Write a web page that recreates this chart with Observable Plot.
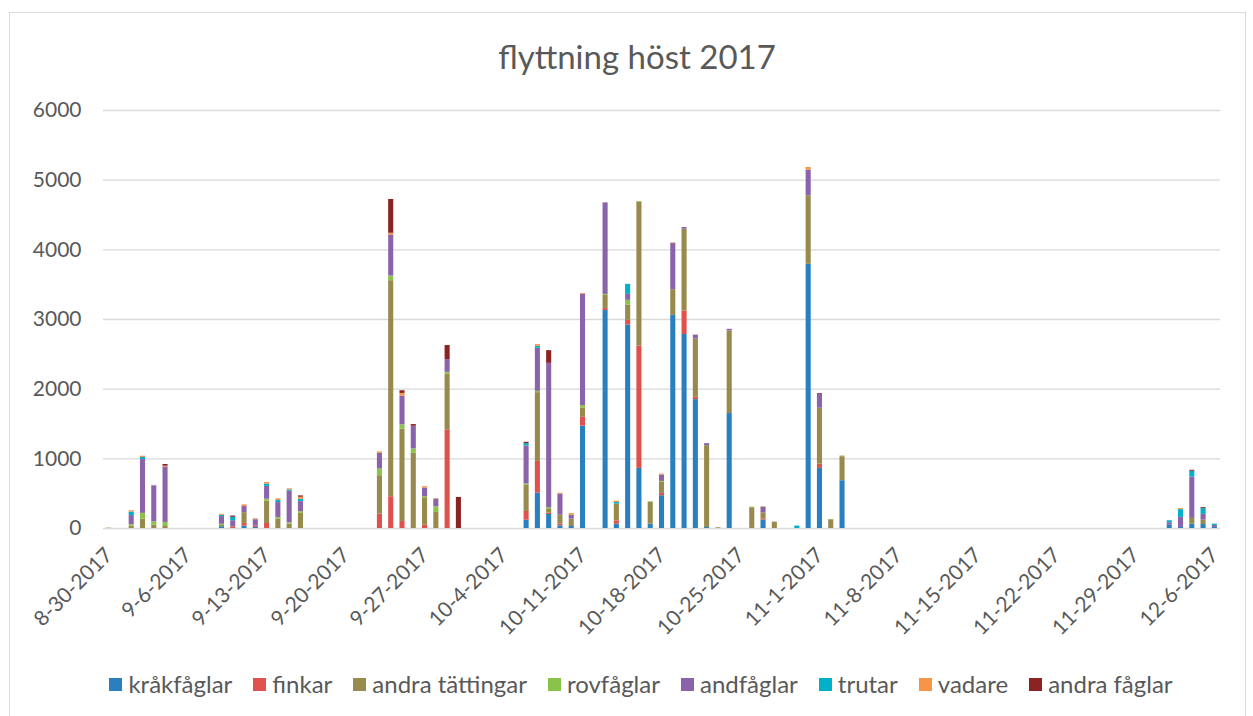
<!DOCTYPE html>
<html>
<head>
<meta charset="utf-8">
<script src="https://cdn.jsdelivr.net/npm/d3@7"></script>
<script src="https://cdn.jsdelivr.net/npm/@observablehq/plot@0.6"></script>
<style>
  html, body { margin: 0; padding: 0; background: #fff; }
  #wrap { position: relative; width: 1253px; height: 716px; overflow: hidden; font-family: Lato, "Open Sans", sans-serif; }
  #frame { position: absolute; left: 9px; top: 12px; width: 1237px; height: 720px; border: 1px solid #d9d9d9; box-sizing: border-box; }
  #title { position: absolute; left: 0; top: 35px; width: 1274px; text-align: center; font-size: 33px; color: #595959; line-height: 42px; }
  #chart { position: absolute; left: 0; top: 0; }
  #legend { position: absolute; left: 0; top: 669px; width: 1282px; display: flex; justify-content: center; gap: 21px; font-size: 24px; color: #595959; line-height: 30px; }
  .item { display: flex; align-items: center; }
  .sw { width: 13px; height: 13px; margin-right: 6px; }
</style>
</head>
<body>
<div id="wrap">
  <div id="frame"></div>
  <div id="title">flyttning höst 2017</div>
  <div id="chart"></div>
  <div id="legend"></div>
</div>
<script>
const seriesNames = ["kråkfåglar", "finkar", "andra tättingar", "rovfåglar", "andfåglar", "trutar", "vadare", "andra fåglar"];
const seriesColors = ["#2a80bf", "#e0504c", "#978a4c", "#8bc34a", "#8a63aa", "#00afc8", "#f79446", "#8c2323"];

const days = ["8-30","9-1","9-2","9-3","9-4","9-9","9-10","9-11","9-12","9-13","9-14","9-15","9-16",
  "9-23","9-24","9-25","9-26","9-27","9-28","9-29","9-30",
  "10-6","10-7","10-8","10-9","10-10","10-11","10-13","10-14","10-15","10-16","10-17","10-18","10-19","10-20","10-21","10-22","10-23","10-24","10-26","10-27","10-28","10-30","10-31",
  "11-1","11-2","11-3","12-2","12-3","12-4","12-5","12-6"];

const krakfaglar = [0,0,0,0,0,25,0,34,15,0,0,0,0,
  0,0,0,0,0,0,0,0,
  120,508,201,38,29,1471,3130,62,2920,863,62,470,3059,2785,1850,14,0,1650,0,120,0,0,3792,
  863,0,686,53,15,63,58,15];
const finkar = [0,0,0,0,0,0,15,39,19,72,0,0,0,
  206,456,101,0,48,0,1416,0,
  125,455,19,24,0,125,29,48,67,1755,0,34,0,336,34,0,0,0,0,19,0,0,0,
  62,0,0,0,0,0,0,0];
const andraTattingar = [5,35,135,48,29,20,10,155,0,319,135,63,217,
  552,3101,1325,1080,394,230,797,0,
  374,987,53,129,105,134,187,240,221,2066,312,158,369,1175,839,1175,10,1185,297,86,91,0,983,
  801,125,345,0,0,82,63,0];
const rovfaglar = [0,20,82,48,58,15,0,0,0,29,24,19,24,
  96,67,62,62,14,82,29,0,
  19,19,24,0,0,34,14,0,67,10,10,14,0,0,0,0,0,0,10,0,0,0,0,
  0,5,10,0,0,0,0,0];
const andfaglar = [0,130,773,517,797,111,87,87,92,184,213,454,145,
  226,590,413,326,125,96,182,0,
  546,618,2074,302,57,1600,1314,0,86,0,0,91,657,24,53,29,0,24,0,67,0,0,369,
  201,0,0,29,145,594,82,29];
const trutar = [0,50,29,0,0,19,48,0,0,34,29,19,34,
  0,0,0,0,0,0,0,0,
  34,29,0,0,0,0,0,24,144,0,0,0,0,0,0,0,0,0,0,0,0,35,0,
  0,0,0,29,111,82,82,19];
const vadare = [0,20,19,5,10,14,0,24,14,24,24,14,29,
  19,24,38,0,19,0,0,0,
  0,24,0,14,24,10,0,19,0,0,0,14,0,0,0,0,0,0,0,0,0,0,38,
  0,0,0,0,14,0,0,0];
const andraFaglar = [0,0,0,0,25,0,19,0,0,0,0,0,19,
  0,485,38,24,0,14,202,446,
  19,0,182,0,0,0,0,0,0,0,0,0,10,0,0,0,0,0,0,14,0,0,0,
  10,0,0,0,0,14,14,0];

const seriesValues = [krakfaglar, finkar, andraTattingar, rovfaglar, andfaglar, trutar, vadare, andraFaglar];
const yTicks = [0, 1000, 2000, 3000, 4000, 5000, 6000];

// full daily domain 8-30-2017 .. 12-6-2017
const fmt = d => `${d.getUTCMonth() + 1}-${d.getUTCDate()}-2017`;
const allDays = d3.utcDay.range(new Date(Date.UTC(2017, 7, 30)), new Date(Date.UTC(2017, 11, 7))).map(fmt);
const tickDays = allDays.filter((d, i) => i % 7 === 0);

const data = [];
seriesNames.forEach((s, si) => {
  days.forEach((d, di) => {
    const v = seriesValues[si][di];
    if (v > 0) data.push({date: d + "-2017", series: s, value: v});
  });
});

const chart = Plot.plot({
  width: 1253,
  height: 640,
  marginTop: 110,
  marginBottom: 112,
  marginLeft: 103,
  marginRight: 33,
  style: {fontFamily: "Lato, 'Open Sans', sans-serif", color: "#595959", background: "transparent"},
  x: {type: "band", domain: allDays, paddingInner: 0.55, paddingOuter: 0.275, align: 0.5, round: false},
  y: {domain: [0, 6000]},
  color: {domain: seriesNames, range: seriesColors},
  marks: [
    Plot.ruleY(yTicks, {stroke: "#d9d9d9", strokeWidth: 1.4}),
    Plot.barY(data, {x: "date", y: "value", fill: "series", z: "series", order: seriesNames}),
    Plot.axisY({ticks: yTicks, tickSize: 0, tickPadding: 22, fontSize: 21, label: null, tickFormat: d => String(d)}),
    Plot.axisX({ticks: tickDays, tickSize: 0, tickPadding: 23, tickRotate: -45, fontSize: 21, label: null})
  ]
});
document.getElementById("chart").appendChild(chart);

const legend = document.getElementById("legend");
seriesNames.forEach((s, i) => {
  const it = document.createElement("div");
  it.className = "item";
  const sw = document.createElement("span");
  sw.className = "sw";
  sw.style.background = seriesColors[i];
  const tx = document.createElement("span");
  tx.textContent = s;
  it.appendChild(sw);
  it.appendChild(tx);
  legend.appendChild(it);
});
</script>
</body>
</html>
